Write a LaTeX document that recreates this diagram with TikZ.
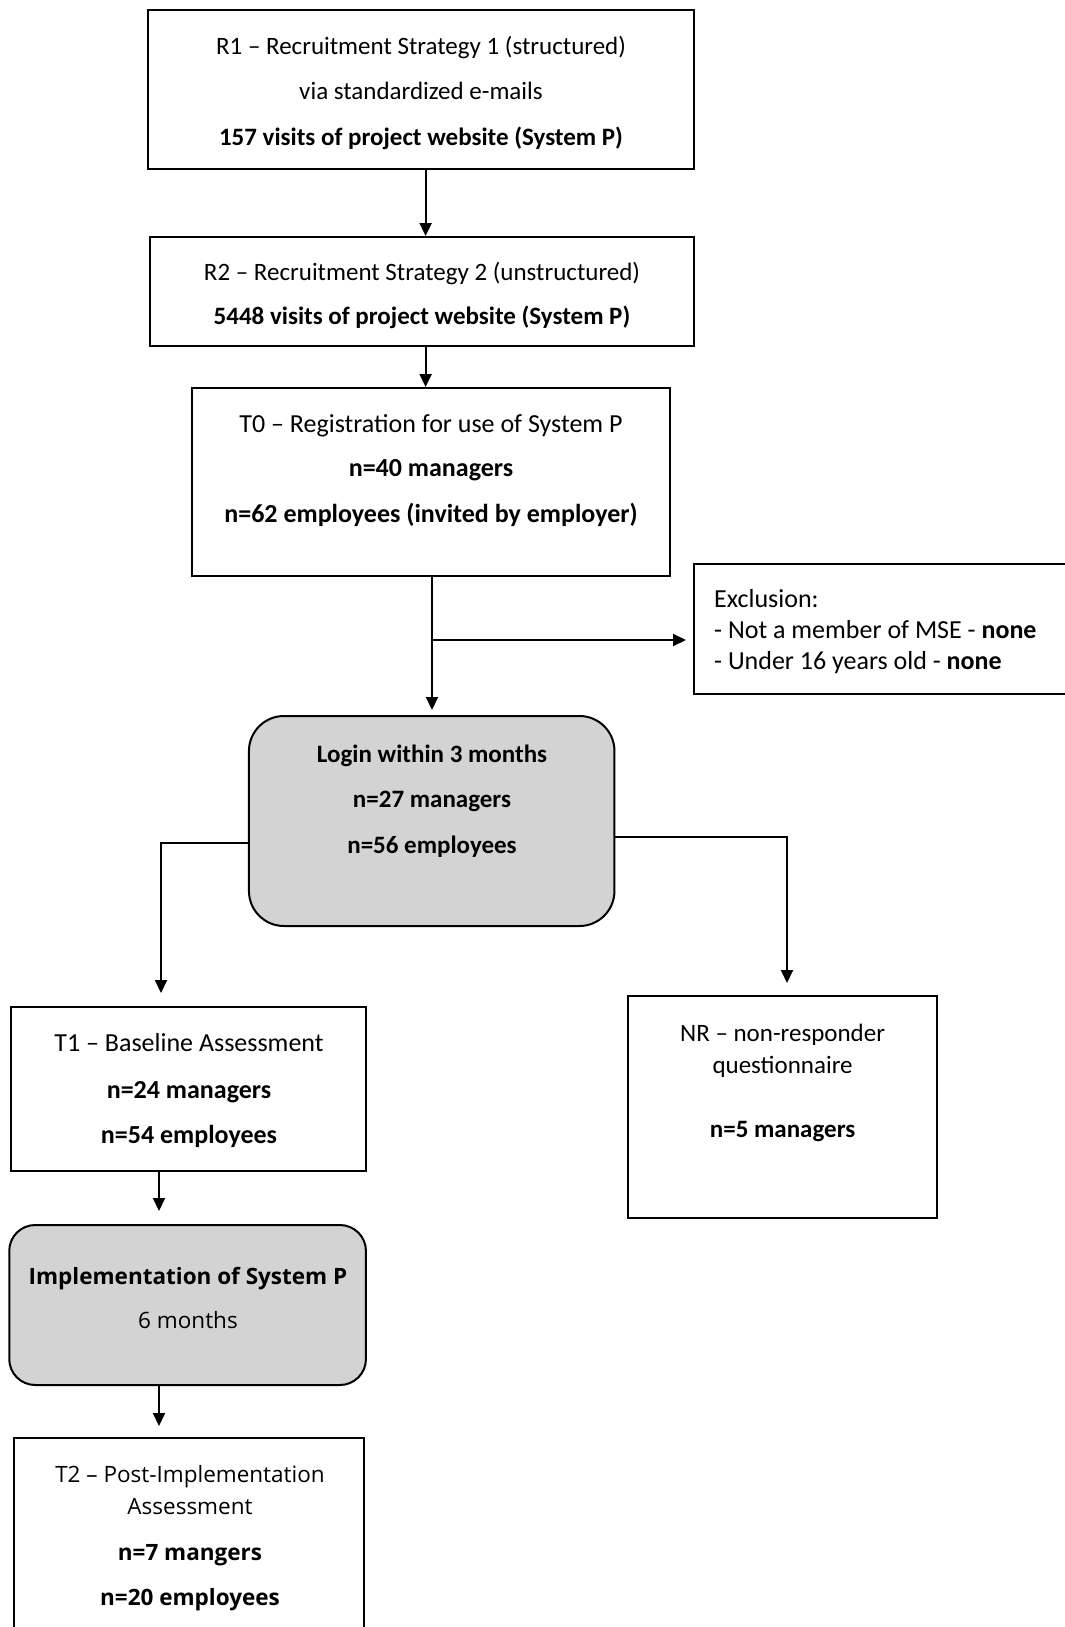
\documentclass[tikz,border=0pt]{standalone}
\usepackage{fontspec}
\setmainfont{Carlito}
\newfontfamily\aptos{Open Sans}
\usetikzlibrary{arrows.meta,calc}
\definecolor{graybox}{HTML}{D3D3D3}
\begin{document}
\begin{tikzpicture}[x=1pt,y=-1pt,
  boxstyle/.style={draw=black, line width=2pt, inner sep=0pt, fill=white},
  roundbox/.style={boxstyle, fill=graybox, rounded corners=#1},
  txt/.style={anchor=base, inner sep=0pt, font=\fontsize{25}{30}\selectfont},
  txtw/.style={anchor=base, inner sep=0pt, font=\fontsize{26}{31}\selectfont},
  txtl/.style={anchor=base west, inner sep=0pt, font=\fontsize{26}{31}\selectfont},
  atxt/.style={anchor=base, inner sep=0pt, font=\aptos\fontsize{22.5}{27}\selectfont},
  arr/.style={line width=2pt, -{Triangle[length=13pt,width=12pt]}}]
\fill[white] (0,0) rectangle (1065,1627);
\useasboundingbox (0,0) rectangle (1065,1627);

% boxes
\node[boxstyle, minimum width=546pt, minimum height=158.6pt] (r1) at (421,89.7) {};
\node[boxstyle, minimum width=543.5pt, minimum height=109pt] (r2) at (422,291.5) {};
\node[boxstyle, minimum width=477.5pt, minimum height=188pt] (t0) at (431,482) {};
\node[boxstyle, minimum width=380pt, minimum height=130pt] (ex) at (884,629) {};
\node[roundbox=35pt, minimum width=365.5pt, minimum height=210pt] (login) at (431.7,821) {};
\node[boxstyle, minimum width=354.6pt, minimum height=164pt] (t1) at (188.7,1089) {};
\node[boxstyle, minimum width=309pt, minimum height=222pt] (nr) at (782.5,1107) {};
\node[roundbox=26pt, minimum width=356.7pt, minimum height=160pt] (impl) at (187.6,1305) {};
\node[boxstyle, minimum width=349.5pt, minimum height=210pt] (t2) at (189,1543) {};

% texts
\node[txt] (r1a) at (421,55) {R1 – Recruitment Strategy 1 (structured)};
\node[txt] (r1b) at (421,100) {via standardized e-mails};
\node[txt] (r1c) at (421,146) {\textbf{157 visits of project website (System P)}};
\node[txt] (r2a) at (422,280) {R2 – Recruitment Strategy 2 (unstructured)};
\node[txt] (r2b) at (422,324) {\textbf{5448 visits of project website (System P)}};
\node[txtw] (t0a) at (431,432) {T0 – Registration for use of System P};
\node[txtw] (t0b) at (431,476) {\textbf{n=40 managers}};
\node[txtw] (t0c) at (431,522) {\textbf{n=62 employees (invited by employer)}};
\node[txtl] (exa) at (714,607) {Exclusion:};
\node[txtl] (exb) at (714,638) {- Not a member of MSE - \textbf{none}};
\node[txtl] (exc) at (714,669) {- Under 16 years old - \textbf{none}};
\node[txt] (la) at (432,762) {\textbf{Login within 3 months}};
\node[txt] (lb) at (432,807) {\textbf{n=27 managers}};
\node[txt] (lc) at (432,853) {\textbf{n=56 employees}};
\node[txtw] (t1a) at (189,1051) {T1 – Baseline Assessment};
\node[txtw] (t1b) at (189,1098) {\textbf{n=24 managers}};
\node[txtw] (t1c) at (189,1143) {\textbf{n=54 employees}};
\node[txt] (nra) at (782.6,1041) {NR – non-responder};
\node[txt] (nrb) at (782.6,1073) {questionnaire};
\node[txt] (nrc) at (782.6,1137) {\textbf{n=5 managers}};
\node[atxt] (ia) at (188,1284) {\textbf{Implementation of System P}};
\node[atxt] (ib) at (188,1328) {6 months};
\node[atxt] (t2a) at (190,1482) {T2 – Post-Implementation};
\node[atxt] (t2b) at (190,1514) {Assessment};
\node[atxt] (t2c) at (190,1560) {\textbf{n=7 mangers}};
\node[atxt] (t2d) at (190,1605) {\textbf{n=20 employees}};

% connectors
\coordinate (r1s) at ($(r1.south)+(4.6,0)$);
\draw[arr] (r1s) -- (r1s |- r2.north);
\coordinate (r2s) at ($(r2.south)+(3.6,0)$);
\draw[arr] (r2s) -- (r2s |- t0.north);
\draw[arr, shorten >=5pt] ([xshift=1pt]t0.south) -- ([xshift=1pt]t0.south |- login.north);
\coordinate (br) at ($(t0.south)+(1,63)$);
\draw[arr, shorten >=7pt] (br) -- (br -| ex.west);
\coordinate (lw) at ($(login.west)+(0,22)$);
\coordinate (lbend) at (161,843);
\draw[arr, shorten >=13pt] (lw) -- (lbend) -- (lbend |- t1.north);
\coordinate (le) at ($(login.east)+(0,16)$);
\coordinate (rbend) at (787,837);
\draw[arr, shorten >=12pt] (le) -- (rbend) -- (rbend |- nr.north);
\coordinate (t1s) at (159,1171);
\draw[arr, shorten >=13pt] (t1.south -| t1s) -- (t1s |- impl.north);
\coordinate (is) at (159,1385);
\draw[arr, shorten >=11pt] (impl.south -| is) -- (is |- t2.north);
\end{tikzpicture}
\end{document}
